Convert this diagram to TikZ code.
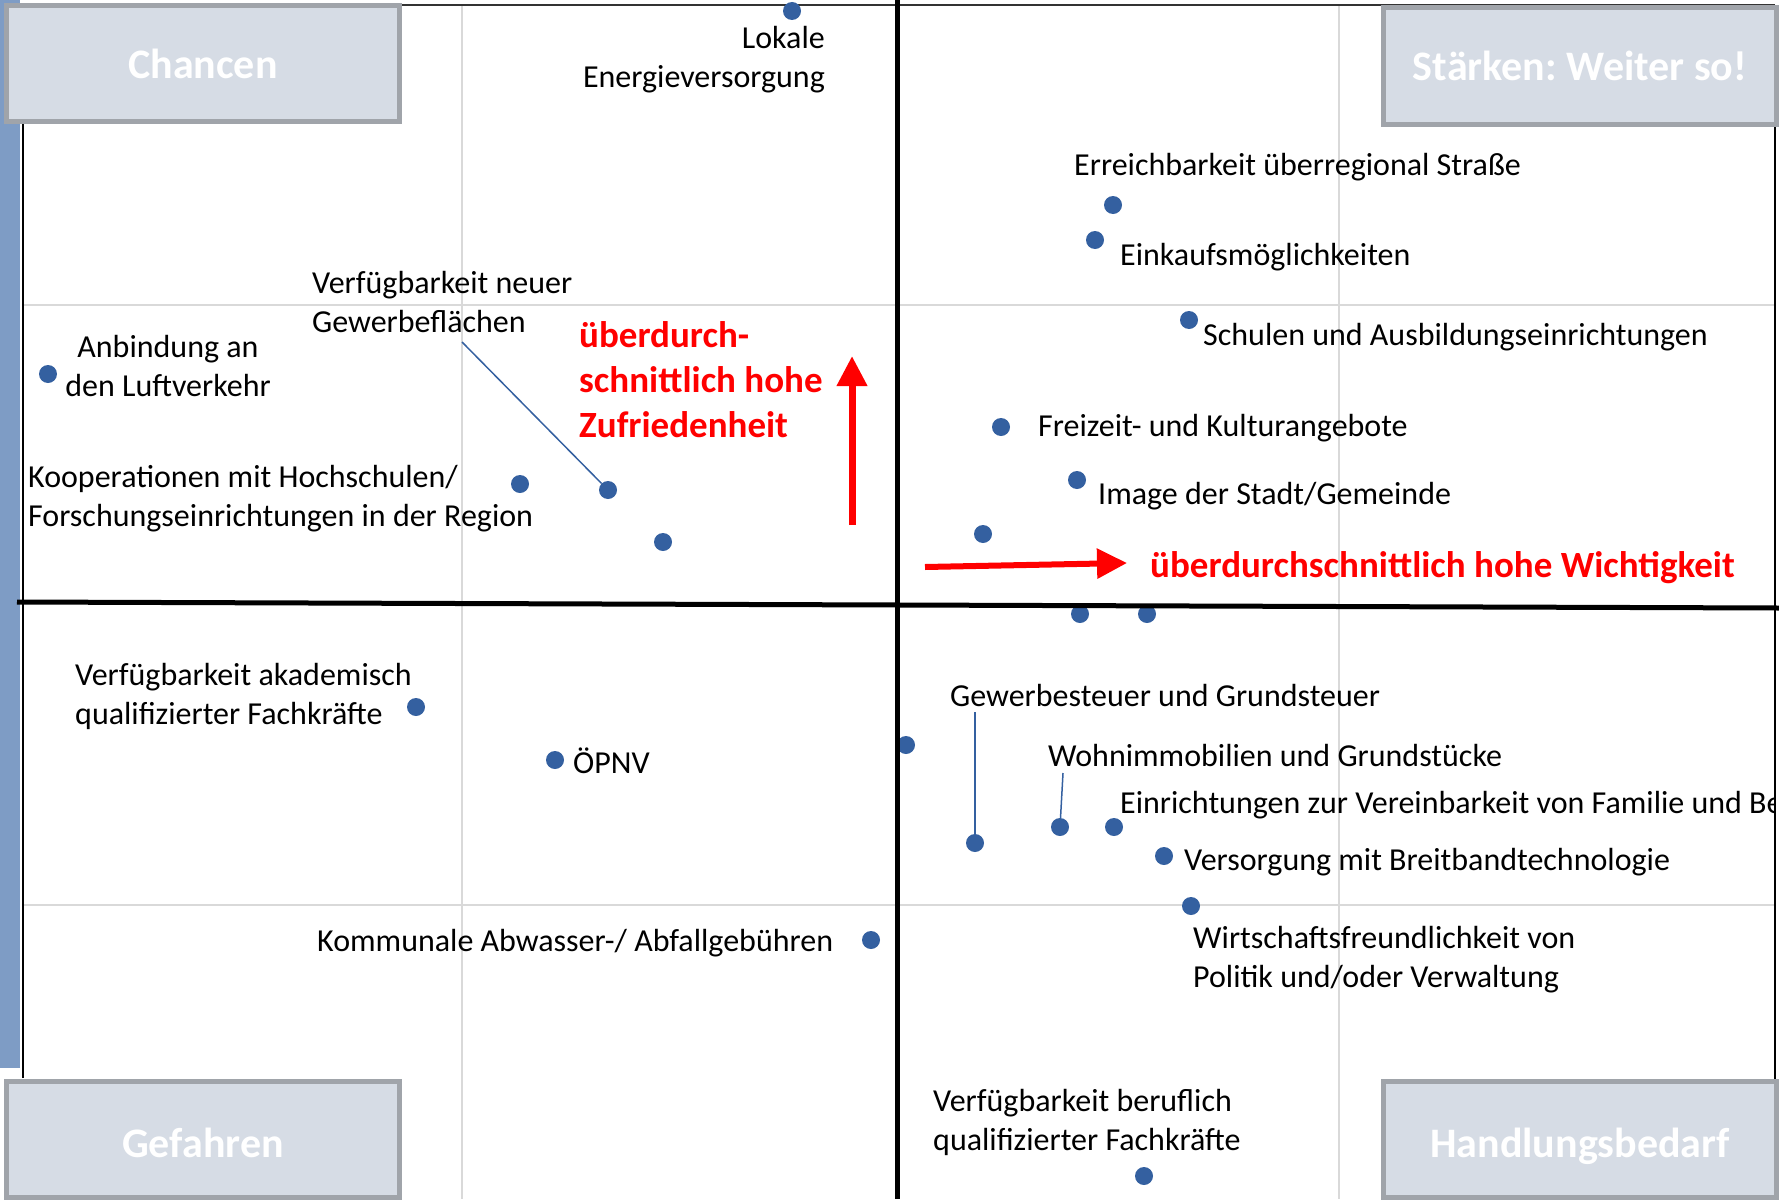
\documentclass[tikz,border=0pt]{standalone}
\usepackage{fontspec}
\setmainfont{Carlito}
\frenchspacing
\usetikzlibrary{arrows.meta}
\definecolor{dotblue}{RGB}{52,96,160}
\definecolor{boxfill}{RGB}{214,220,229}
\definecolor{boxline}{RGB}{160,164,170}
\definecolor{stripblue}{RGB}{126,156,197}
\definecolor{gridgray}{RGB}{217,217,217}
\def\lblfont{\fontsize{32}{39}\selectfont}
\def\redfont{\fontsize{37}{45}\bfseries\selectfont}
\def\boxfont{\fontsize{42}{51}\bfseries\selectfont}
\tikzset{
	datapoint/.style={circle, fill=dotblue, inner sep=0pt, minimum size=18pt},
	lbl/.style={font=\lblfont, inner sep=0pt, align=left, anchor=base west},
	redlbl/.style={font=\redfont, text=red, inner sep=0pt, align=left, anchor=base west},
	quadbox/.style={draw=boxline, fill=boxfill, line width=5pt, minimum width=393pt, minimum height=116pt, font=\boxfont, text=white, inner sep=0pt, text height=29pt, text depth=0pt},
	leader/.style={draw=dotblue, line width=1.5pt},
	redarrow/.style={draw=red, -{Triangle[width=29pt,length=30pt]}},
	gridline/.style={draw=gridgray, line width=2pt},
}

\begin{document}
\begin{tikzpicture}[x=1pt, y=-1pt]
			%%%%% START %%%%%
			\useasboundingbox (0,0) rectangle (1779,1199);
			
			\fill[stripblue] (0,0) rectangle (20,1068);
			
			\draw[gridline] (462,5) -- (462,1199);
			\draw[gridline] (1339,5) -- (1339,1199);
			\draw[gridline] (23,305) -- (1775,305);
			\draw[gridline] (23,905) -- (1775,905);
			
			\draw[line width=2pt] (23,1078) -- (23,5);
			\draw[line width=2pt, color=black!80] (23,5) -- (1775,5);
			
			% points, upper left
			\node[datapoint] (p1) at (792,11) {};
			\node[datapoint] (p2) at (608,490) {};
			\node[datapoint] (p3) at (520,484) {};
			\node[datapoint] (p4) at (663,542) {};
			\node[datapoint] (p5) at (48,374) {};
			% points, upper right
			\node[datapoint] (p6) at (1113,205) {};
			\node[datapoint] (p7) at (1095,240) {};
			\node[datapoint] (p8) at (1189,320) {};
			\node[datapoint] (p9) at (1001,427) {};
			\node[datapoint] (p10) at (1077,480) {};
			\node[datapoint] (p11) at (983,534) {};
			% points, lower right
			\node[datapoint] (p12) at (1080,614) {};
			\node[datapoint] (p13) at (1147,614) {};
			\node[datapoint] (p14) at (975,843) {};
			\node[datapoint] (p15) at (906,745) {};
			\node[datapoint] (p16) at (1060,827) {};
			\node[datapoint] (p17) at (1114,827) {};
			\node[datapoint] (p18) at (1164,856) {};
			\node[datapoint] (p19) at (1191,906) {};
			\node[datapoint] (p20) at (1144,1176) {};
			% points, lower left
			\node[datapoint] (p21) at (416,707) {};
			\node[datapoint] (p22) at (555,760) {};
			\node[datapoint] (p23) at (871,940) {};
			
			\draw[line width=5pt] (897,0) -- (897,1199);
			\draw[line width=5pt] (17,602) -- (1779,608);
			
			% labels
			\node[lbl, anchor=base east, align=right] (lokale) at (825,87) {Lokale\\Energieversorgung};
			\node[lbl] (neuer) at (312,332) {Verfügbarkeit neuer\\Gewerbeflächen};
			\node[lbl, anchor=base, align=center] (anbindung) at (168,396) {Anbindung an\\den Luftverkehr};
			\node[lbl] (kooperation) at (28,526) {Kooperationen mit Hochschulen/\\Forschungseinrichtungen in der Region};
			\node[lbl] (erreich) at (1074,175) {Erreichbarkeit überregional Straße};
			\node[lbl] (einkauf) at (1120,265) {Einkaufsmöglichkeiten};
			\node[lbl] (schulen) at (1203,345) {Schulen und Ausbildungseinrichtungen};
			\node[lbl] (freizeit) at (1038,436) {Freizeit- und Kulturangebote};
			\node[lbl] (image) at (1098,504) {Image der Stadt/Gemeinde};
			\node[lbl] (gewst) at (950,706) {Gewerbesteuer und Grundsteuer};
			\node[lbl] (wohn) at (1048,766) {Wohnimmobilien und Grundstücke};
			\begin{scope}
				\clip (23,0) rectangle (1774,1199);
				\node[lbl] (einricht) at (1120,813) {Einrichtungen zur Vereinbarkeit von Familie und Be};
			\end{scope}
			\node[lbl] (breitband) at (1184,870) {Versorgung mit Breitbandtechnologie};
			\node[lbl] (wirtschaft) at (1193,987) {Wirtschaftsfreundlichkeit von\\Politik und/oder Verwaltung};
			\node[lbl] (beruflich) at (933,1150) {Verfügbarkeit beruflich\\qualifizierter Fachkräfte};
			\node[lbl] (akademisch) at (75,724) {Verfügbarkeit akademisch\\qualifizierter Fachkräfte};
			\node[lbl] (oepnv) at (573,773) {ÖPNV};
			\node[lbl] (abwasser) at (317,951) {Kommunale Abwasser-/ Abfallgebühren};
			
			\coordinate (neuer-ptr) at (462,342);
			\coordinate (gewst-ptr) at (975,712);
			\coordinate (wohn-ptr) at (1063,773);
			\draw[leader] (neuer-ptr) -- (p2);
			\draw[leader] (gewst-ptr) -- (p14);
			\draw[leader] (wohn-ptr) -- (p16);
			
			% red hints
			\node[redlbl] (zufrieden) at (579,437) {überdurch-\\schnittlich hohe\\Zufriedenheit};
			\node[redlbl] (wichtig) at (1150,577) {überdurchschnittlich hohe Wichtigkeit};
			\coordinate (up-from) at (852,525);
			\coordinate (up-to) at (852,356);
			\coordinate (right-from) at (925,567);
			\coordinate (right-to) at (1127,563);
			\draw[redarrow, line width=7pt] (up-from) -- (up-to);
			\draw[redarrow, line width=6pt] (right-from) -- (right-to);
			
			\draw[line width=2pt] (1775,5) -- (1775,1080);
			
			% quadrant boxes
			\node[quadbox] (chancen) at (203,63.5) {Chancen};
			\node[quadbox] (staerken) at (1580,66) {Stärken: Weiter so!};
			\node[quadbox, text height=36pt] (gefahren) at (203,1139) {Gefahren};
			\node[quadbox, text height=36pt] (handlung) at (1580,1139) {Handlungsbedarf};
			
			%%%%% END %%%%%
\end{tikzpicture}
\end{document}
